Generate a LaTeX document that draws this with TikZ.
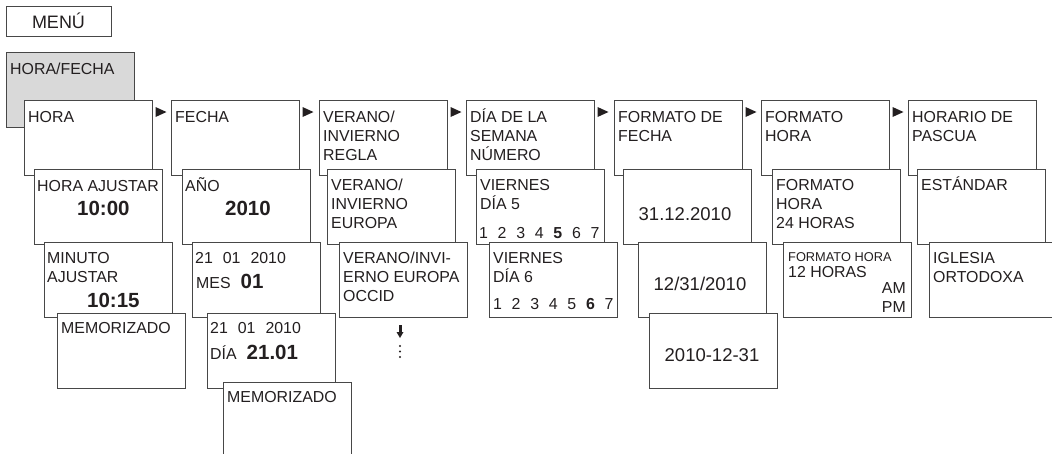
\documentclass[tikz,border=0pt]{standalone}
\usepackage{fontspec}
\setmainfont{Liberation Sans}
\definecolor{ink}{HTML}{231F20}
\definecolor{rim}{HTML}{474747}
\definecolor{shade}{HTML}{D9D9D9}
\newcommand{\fs}{\fontsize{15.9}{19}\selectfont}
\newcommand{\fb}{\fontsize{20.5}{24}\selectfont\bfseries}
\newcommand{\fd}{\fontsize{18.5}{22}\selectfont}
\newcommand{\fsm}{\fontsize{12.8}{15}\selectfont}
\newcommand{\txtlines}[1]{\parbox[t]{140pt}{#1}}
\tikzset{
  card/.style={rectangle, draw=rim, line width=1pt, fill=white, anchor=north west,
    minimum width=128pt, minimum height=75pt, inner sep=0pt, outer sep=0pt},
  txt/.style={anchor=base west, inner sep=0pt, text=ink, font=\fs},
  num/.style={txt, font=\fb},
  datetxt/.style={txt, anchor=base, font=\fd},
}

\begin{document}
\begin{tikzpicture}[x=1pt, y=-1pt]
  \useasboundingbox (0,0) rectangle (1052,453);

  \node[card, minimum width=105pt, minimum height=30pt] (menu) at (6,6) {};
  \node[txt, anchor=base, font=\fontsize{18}{20}\selectfont] (menuT) at (58.5,28) {MENÚ};

  \node[card, fill=shade] (horafecha) at (6,52) {};
  \node[txt] (horafechaT) at (10,74) {HORA/FECHA};

  % HORA
  \node[card] (hora) at (24,100) {};
  \node[txt] (horaT) at (28,122) {HORA};
  \node[card] (horaaj) at (34,169) {};
  \node[txt] (horaajT) at (37,191) {HORA AJUSTAR};
  \node[num] (horaajN) at (77,215) {10:00};
  \node[card] (minaj) at (44,242) {};
  \node[txt] (minajT) at (47,263) {\txtlines{MINUTO\\AJUSTAR}};
  \node[num] (minajN) at (87,307) {10:15};
  \node[card] (memoA) at (57,313) {};
  \node[txt] (memoAT) at (61,333) {MEMORIZADO};

  % FECHA
  \node[card] (fecha) at (171,100) {};
  \node[txt] (fechaT) at (175,122) {FECHA};
  \node[card] (anio) at (182,169) {};
  \node[txt] (anioT) at (185,191) {AÑO};
  \node[num] (anioN) at (225,215) {2010};
  \node[card] (mes) at (192,242) {};
  \node[txt] (mesT) at (195,263) {21\hspace{10pt}01\hspace{10pt}2010};
  \node[txt] (mesN) at (196,288) {MES\hspace{10pt}{\fb 01}};
  \node[card] (dia) at (207,313) {};
  \node[txt] (diaT) at (210,333) {21\hspace{10pt}01\hspace{10pt}2010};
  \node[txt] (diaN) at (210,359) {DÍA\hspace{10pt}{\fb 21.01}};
  \node[card] (memoB) at (223,382) {};
  \node[txt] (memoBT) at (227,402) {MEMORIZADO};

  % VERANO/INVIERNO
  \node[card] (regla) at (319,100) {};
  \node[txt] (reglaT) at (323,122) {\txtlines{VERANO/\\INVIERNO\\REGLA}};
  \node[card] (europa) at (327,169) {};
  \node[txt] (europaT) at (331,190) {\txtlines{VERANO/\\INVIERNO\\EUROPA}};
  \node[card] (occid) at (339,242) {};
  \node[txt] (occidT) at (343,263) {\txtlines{VERANO/INVI-\\ERNO EUROPA\\OCCID}};
  \fill[ink] ([shift={(59.5,8)}]occid.south west) rectangle ++(3,8);
  \fill[ink] ([shift={(57.5,15)}]occid.south west) -- ++(7,0) -- ++(-3.5,6) -- cycle;
  \foreach \k in {0,1,2}
    \fill[ink] ([shift={(61,29+5.5*\k)}]occid.south west) circle (1.1);

  % DIA DE LA SEMANA
  \node[card] (semana) at (466,100) {};
  \node[txt] (semanaT) at (470,122) {\txtlines{DÍA DE LA\\SEMANA\\NÚMERO}};
  \node[card] (vierA) at (476,169) {};
  \node[txt] (vierAT) at (480,190) {\txtlines{VIERNES\\DÍA 5}};
  \foreach \i in {1,...,7}
    \node[txt, anchor=base] (wkA\i) at (483.5+18.6*\i-18.6,238) {\ifnum\i=5 \bfseries\fi\i};
  \node[card] (vierB) at (489,242) {};
  \node[txt] (vierBT) at (493,263) {\txtlines{VIERNES\\DÍA 6}};
  \foreach \i in {1,...,7}
    \node[txt, anchor=base] (wkB\i) at (497.5+18.6*\i-18.6,309) {\ifnum\i=6 \bfseries\fi\i};

  % FORMATO DE FECHA
  \node[card] (fmtfecha) at (614,100) {};
  \node[txt] (fmtfechaT) at (618,122) {\txtlines{FORMATO DE\\FECHA}};
  \node[card] (eu) at (623,169) {};
  \node[datetxt] (euT) at (685,220) {31.12.2010};
  \node[card] (us) at (638,242) {};
  \node[datetxt] (usT) at (700,290) {12/31/2010};
  \node[card] (iso) at (649,313) {};
  \node[datetxt] (isoT) at (712,361) {2010-12-31};

  % FORMATO HORA
  \node[card] (fmthora) at (761,100) {};
  \node[txt] (fmthoraT) at (765,122) {\txtlines{FORMATO\\HORA}};
  \node[card] (hveinte) at (772,169) {};
  \node[txt] (hveinteT) at (776,190) {\txtlines{FORMATO\\HORA\\24 HORAS}};
  \node[card] (hdoce) at (783,242) {};
  \node[txt, font=\fsm] (hdoceS) at (788,261) {FORMATO HORA};
  \node[txt] (hdoceT) at (788,277) {12 HORAS};
  \node[txt, anchor=base east] (ampm) at (906,293) {\parbox[t]{30pt}{\raggedleft AM\\PM}};

  % HORARIO DE PASCUA
  \node[card] (pascua) at (908,100) {};
  \node[txt] (pascuaT) at (912,122) {\txtlines{HORARIO DE\\PASCUA}};
  \node[card] (estandar) at (917,169) {};
  \node[txt] (estandarT) at (921,190) {ESTÁNDAR};
  \node[card] (iglesia) at (929,242) {};
  \node[txt] (iglesiaT) at (933,263) {\txtlines{IGLESIA\\ORTODOXA}};

  % 三角をはる
  \foreach \a in {hora,fecha,regla,semana,fmtfecha,fmthora}
    \fill[ink] ([shift={(3.5,7)}]\a.north east) -- ++(11,5) -- ++(-11,5) -- cycle;
\end{tikzpicture}
\end{document}
